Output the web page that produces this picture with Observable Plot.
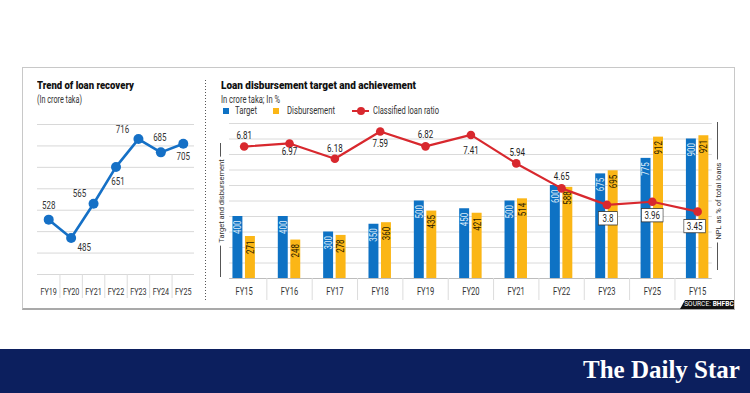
<!DOCTYPE html>
<html>
<head>
<meta charset="utf-8">
<script src="https://cdn.jsdelivr.net/npm/d3@7"></script>
<script src="https://cdn.jsdelivr.net/npm/@observablehq/plot@0.6"></script>
<style>
  html, body { margin:0; padding:0; background:#fff; }
  #page { position:relative; width:750px; height:393px; overflow:hidden; background:#fff; font-family: Roboto, "Liberation Sans", sans-serif; color:#222; }
  .abs { position:absolute; }
  .title { font-weight:900; font-size:11px; line-height:12px; color:#111; white-space:nowrap; }
  .sub { font-size:10px; line-height:10px; color:#333; white-space:nowrap; }
  .leg { font-size:10.5px; line-height:10px; color:#333; white-space:nowrap; }
  .fit { transform-origin: 0 50%; }
  .vlabel { font-size:7.5px; line-height:9px; color:#333; white-space:nowrap; background:#fff; padding:0 3px; transform: translate(-50%,-50%) rotate(-90deg); }
  svg { overflow: visible; }
</style>
</head>
<body>
<div id="page">
  <div class="abs" style="left:22px;top:67px;width:713px;height:243px;box-sizing:border-box;border:1px solid #c8c8c8;border-bottom:2px solid #a9a9a9;"></div>
  <div class="abs" style="left:205px;top:80px;width:1.3px;height:220px;background-image:linear-gradient(#555 50%, rgba(0,0,0,0) 50%);background-size:1.3px 3px;"></div>
  <div class="abs title fit" data-w="97" style="left:37px;top:80px;">Trend of loan recovery</div>
  <div class="abs sub fit" data-w="45" style="left:37px;top:94.5px;">(In crore taka)</div>
  <div class="abs title fit" data-w="195" style="left:221px;top:80px;">Loan disbursement target and achievement</div>
  <div class="abs sub fit" data-w="59" style="left:221px;top:95px;">In crore taka; In %</div>
  <div id="legend"></div>
  <div id="leftChart" class="abs" style="left:22px;top:110px;"></div>
  <div id="rightChart" class="abs" style="left:200px;top:110px;"></div>
  <div class="abs" style="left:220px;top:143px;width:1px;height:134px;background:#555;"></div>
  <div class="abs vlabel" style="left:220.5px;top:201px;">Target and disbursement</div>
  <div class="abs" style="left:717px;top:122px;width:1px;height:148px;background:#555;"></div>
  <div class="abs vlabel" style="left:717.5px;top:201px;">NPL as % of total loans</div>
  <div class="abs" style="left:680px;top:300px;width:54px;height:9px;background:#111;clip-path:polygon(5px 0,100% 0,100% 100%,0 100%);"></div>
  <div class="abs" style="left:684px;top:300px;width:50px;height:9px;line-height:9px;text-align:center;color:#fff;font-size:6.5px;letter-spacing:0.1px;">SOURCE: <b>BHFBC</b></div>
  <div class="abs" style="left:0;top:349px;width:750px;height:44px;background:#0c1f5e;"></div>
  <div class="abs" style="left:583px;top:355px;font-family:'Liberation Serif','DejaVu Serif',serif;font-weight:700;font-size:25px;line-height:30px;color:#fff;white-space:nowrap;">The Daily Star</div>
</div>
<script>
// ---------- data ----------
const recoveryYears = ["FY19", "FY20", "FY21", "FY22", "FY23", "FY24", "FY25"];
const recoveryValues = [528, 485, 565, 651, 716, 685, 705];
const recoveryTicks = [400, 450, 500, 550, 600, 650, 700, 750];

const fyLabels = ["FY15", "FY16", "FY17", "FY18", "FY19", "FY20", "FY21", "FY22", "FY23", "FY25", "FY15"];
const targetValues = [400, 400, 300, 350, 500, 450, 500, 600, 675, 775, 900];
const disbursementValues = [271, 248, 278, 360, 435, 421, 514, 588, 695, 912, 921];
const classifiedRatio = [6.81, 6.97, 6.18, 7.59, 6.82, 7.41, 5.94, 4.65, 3.8, 3.96, 3.45];
const barTicks = [0, 100, 200, 300, 400, 500, 600, 700, 800, 900, 1000];
const ratioAxisMax = 8;

const legendItems = ["Target", "Disbursement", "Classified loan ratio"];

// ---------- styling ----------
const BLUE = "#0e72c4", YELLOW = "#fbb616", RED = "#d8282e", LINEBLUE = "#1570c6";
const FONT = "Roboto, sans-serif";
const SX = 0.76; // horizontal compression to mimic the condensed face

// legend
const leg = document.getElementById("legend");
leg.innerHTML = `
  <div class="abs" style="left:222.7px;top:108px;width:6px;height:6px;background:${BLUE}"></div>
  <div class="abs leg fit" data-w="22" style="left:235px;top:106px;">${legendItems[0]}</div>
  <div class="abs" style="left:272.7px;top:108px;width:6px;height:6px;background:${YELLOW}"></div>
  <div class="abs leg fit" data-w="48" style="left:287px;top:106px;">${legendItems[1]}</div>
  <div class="abs" style="left:352px;top:110px;width:17px;height:2px;background:${RED}"></div>
  <div class="abs" style="left:356.5px;top:107px;width:8px;height:8px;border-radius:50%;background:${RED}"></div>
  <div class="abs leg fit" data-w="66" style="left:373px;top:106px;">${legendItems[2]}</div>`;

document.querySelectorAll(".fit").forEach(el => {
  const w = el.getBoundingClientRect().width;
  el.style.transform = `scaleX(${(+el.dataset.w) / w})`;
});

function condense(svg) {
  d3.select(svg).selectAll("text").each(function () {
    const t = this.getAttribute("transform") || "";
    this.setAttribute("transform", `${t} scale(${SX},1)`);
  });
}

// ---------- left chart ----------
const rec = recoveryValues.map((v, i) => ({i, v}));
const nR = recoveryYears.length;
const recLabelOffsets = [[0, -14], [13, 10], [-14, -10], [2, 15], [-16, -9], [-1, -15], [0, 13]];

const leftPlot = Plot.plot({
  width: 185, height: 200,
  marginLeft: 15, marginRight: 13, marginTop: 14, marginBottom: 36,
  x: {domain: [-0.5, nR - 0.5], label: null},
  y: {domain: [recoveryTicks[0], recoveryTicks[recoveryTicks.length - 1]], axis: null},
  style: {fontFamily: FONT, fontSize: "9px", color: "#333", background: "transparent"},
  marks: [
    Plot.ruleY(recoveryTicks, {stroke: "#d8d8d8", strokeWidth: 1}),
    Plot.axisX(d3.range(nR - 1).map(i => i + 0.5), {tickSize: 24, tickFormat: () => "", stroke: "#dcdcdc", strokeOpacity: 1}),
    Plot.axisX(d3.range(nR), {tickSize: 0, tickPadding: 14, tickFormat: i => recoveryYears[i], fontSize: 9.5, fill: "#333"}),
    Plot.line(rec, {x: "i", y: "v", stroke: LINEBLUE, strokeWidth: 2.6}),
    Plot.dot(rec, {x: "i", y: "v", r: 5, fill: LINEBLUE}),
    ...rec.map((d, k) => Plot.text([d], {x: "i", y: "v", text: d => String(d.v), dx: recLabelOffsets[k][0], dy: recLabelOffsets[k][1], fontSize: 10.5, fill: "#333"}))
  ]
});
document.getElementById("leftChart").appendChild(leftPlot);
condense(leftPlot);

// ---------- right chart ----------
const nF = fyLabels.length;
const rows = fyLabels.map((f, i) => ({i, f, t: targetValues[i], d: disbursementValues[i], r: classifiedRatio[i]}));
const toBar = r => r * (barTicks[barTicks.length - 1] / ratioAxisMax);
const nplOffsets = [[0, -11], [0, 8], [0, -10.5], [0, 12.5], [0, -12], [0, 16], [1, -11], [0, -12], [1, 14], [0, 14], [-3, 15]];
const nplBoxed = [false, false, false, false, false, false, false, false, true, true, true];
const BOXED_FILL = "#1f1f1f";
const BAR_INSET = 17.7, BAR_SHIFT = 6.25;

const rightPlot = Plot.plot({
  width: 535, height: 200,
  marginLeft: 21, marginRight: 15.2, marginTop: 13, marginBottom: 32,
  x: {domain: [-0.5, nF - 0.5], label: null},
  y: {domain: [barTicks[0], barTicks[barTicks.length - 1]], axis: null},
  style: {fontFamily: FONT, fontSize: "9.5px", color: "#333", background: "transparent"},
  marks: [
    Plot.ruleY(barTicks.slice(1), {stroke: "#dadada", insetLeft: 8, insetRight: 8}),
    Plot.ruleY([barTicks[0]], {stroke: "#bdbdbd", insetLeft: 8, insetRight: 8}),
    Plot.axisX(d3.range(nF - 1).map(i => i + 0.5), {tickSize: 22, tickFormat: () => "", stroke: "#dcdcdc", strokeOpacity: 1}),
    Plot.axisX(d3.range(nF), {tickSize: 0, tickPadding: 9, tickFormat: i => fyLabels[i], fontSize: 10, fill: "#333"}),
    Plot.rectY(rows, {x1: d => d.i - 0.5, x2: d => d.i + 0.5, y: "t", fill: BLUE, insetLeft: BAR_INSET, insetRight: BAR_INSET, dx: -BAR_SHIFT}),
    Plot.rectY(rows, {x1: d => d.i - 0.5, x2: d => d.i + 0.5, y: "d", fill: YELLOW, insetLeft: BAR_INSET, insetRight: BAR_INSET, dx: BAR_SHIFT}),
    Plot.text(rows, {x: "i", y: "t", text: d => String(d.t), rotate: -90, textAnchor: "end", lineAnchor: "middle", dx: -BAR_SHIFT, dy: 4, fontSize: 10.5, fill: "#dcebf8"}),
    Plot.text(rows, {x: "i", y: "d", text: d => String(d.d), rotate: -90, textAnchor: "end", lineAnchor: "middle", dx: BAR_SHIFT, dy: 4, fontSize: 10.5, fill: "#2a2000"}),
    Plot.line(rows, {x: "i", y: d => toBar(d.r), stroke: RED, strokeWidth: 2.2}),
    Plot.dot(rows, {x: "i", y: d => toBar(d.r), r: 4.3, fill: RED}),
    ...rows.map((d, k) => Plot.text([d], {x: "i", y: q => toBar(q.r), text: q => String(q.r), dx: nplOffsets[k][0], dy: nplOffsets[k][1], fontSize: 10.5, fill: nplBoxed[k] ? BOXED_FILL : "#222"}))
  ]
});
document.getElementById("rightChart").appendChild(rightPlot);
condense(rightPlot);

// white boxes behind the last three ratio labels
d3.select(rightPlot).selectAll(`g[fill="${BOXED_FILL}"] text`).each(function () {
  const bb = this.getBBox();
  const wScreen = Math.max(bb.width * SX + 6, 19);
  const wLocal = wScreen / SX;
  const cx = bb.x + bb.width / 2;
  d3.select(this.parentNode).insert("rect", () => this)
    .attr("x", cx - wLocal / 2).attr("y", bb.y - 0.5)
    .attr("width", wLocal).attr("height", bb.height + 1)
    .attr("transform", this.getAttribute("transform"))
    .attr("fill", "#fff").attr("stroke", "#333").attr("stroke-width", 0.8);
});
</script>
</body>
</html>
